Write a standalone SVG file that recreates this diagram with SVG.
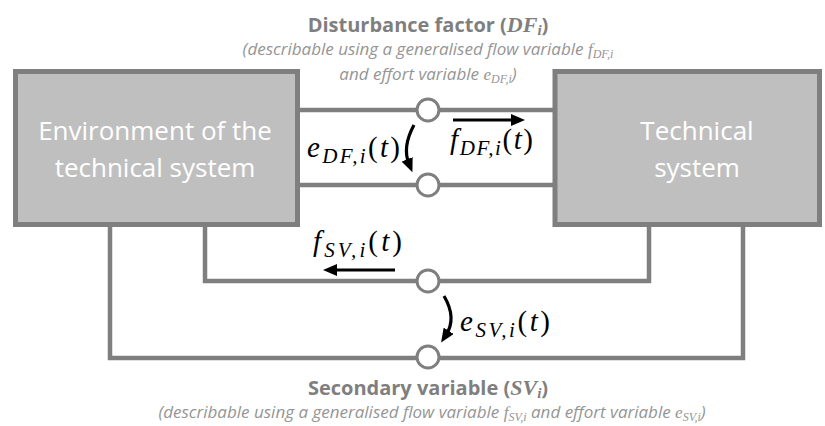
<svg xmlns="http://www.w3.org/2000/svg" width="825" height="426" viewBox="0 0 825 426">
<style>
.box{fill:#bfbfbf;stroke:#7f7f7f;stroke-width:5}
.wire{fill:none;stroke:#7f7f7f;stroke-width:4.5}
.port{fill:#fff;stroke:#7f7f7f;stroke-width:3}
.arr{fill:none;stroke:#000;stroke-width:3.2;marker-end:url(#ah)}
.boxt{font-family:"Open Sans","Liberation Sans",sans-serif;font-size:26px;fill:#fff;text-anchor:middle}
.title{font-family:"Open Sans","Liberation Sans",sans-serif;font-size:20px;font-weight:bold;fill:#7f7f7f;text-anchor:middle}
.desc{font-family:"Open Sans","Liberation Sans",sans-serif;font-size:17px;font-style:italic;fill:#959595;text-anchor:middle}
.m{font-family:"Liberation Serif",serif;font-style:italic}
.mb{font-family:"Liberation Serif",serif;font-style:italic;font-weight:bold}
.lab{font-family:"Liberation Serif",serif;font-style:italic;font-size:29px;fill:#000}
.up{font-style:normal}
</style>
<defs>
<marker id="ah" markerUnits="userSpaceOnUse" markerWidth="14" markerHeight="12" refX="5" refY="6" orient="auto">
<path d="M0,0 L14,6 L0,12 z" fill="#000"/>
</marker>
</defs>
<g id="connectors">
<path class="wire" d="M300,110 H555"/>
<path class="wire" d="M300,185 H555"/>
<path class="wire" d="M205,225 V281 H649 V225"/>
<path class="wire" d="M110,225 V358 H743 V225"/>
</g>
<g id="env">
<rect class="box" x="15.5" y="71.5" width="282" height="153"/>
<text class="boxt" x="155" y="140">Environment of the</text>
<text class="boxt" x="155" y="177">technical system</text>
</g>
<g id="tech">
<rect class="box" x="555" y="71.5" width="264.5" height="153"/>
<text class="boxt" x="697" y="140">Technical</text>
<text class="boxt" x="697" y="177">system</text>
</g>
<g id="ports">
<circle class="port" cx="428" cy="110" r="11"/>
<circle class="port" cx="428" cy="185" r="11"/>
<circle class="port" cx="428" cy="281" r="11"/>
<circle class="port" cx="428" cy="357" r="11"/>
</g>
<g id="arrows">
<path class="arr" d="M453,120 H516"/>
<path class="arr" d="M395,270 H332"/>
<path class="arr" d="M414,125 Q402,147 409,164"/>
<path class="arr" d="M444,296 Q457,318 446,335"/>
</g>
<g id="labels">
<text class="lab" x="307" y="157" textLength="93" lengthAdjust="spacing">e<tspan font-size="21" dy="6">DF,i</tspan><tspan class="up" dy="-6">(</tspan>t<tspan class="up">)</tspan></text>
<text class="lab" x="450" y="149" textLength="83" lengthAdjust="spacing">f<tspan font-size="21" dy="6">DF,i</tspan><tspan class="up" dy="-6">(</tspan>t<tspan class="up">)</tspan></text>
<text class="lab" x="313" y="251" textLength="89" lengthAdjust="spacing">f<tspan font-size="21" dy="6">SV,i</tspan><tspan class="up" dy="-6">(</tspan>t<tspan class="up">)</tspan></text>
<text class="lab" x="460" y="331" textLength="90" lengthAdjust="spacing">e<tspan font-size="21" dy="6">SV,i</tspan><tspan class="up" dy="-6">(</tspan>t<tspan class="up">)</tspan></text>
</g>
<g id="df-title">
<text class="title" x="428" y="32">Disturbance factor (<tspan class="mb" font-size="22">DF</tspan><tspan class="mb" font-size="15" dy="3">i</tspan><tspan dy="-3">)</tspan></text>
<text class="desc" x="428" y="55">(describable using a generalised flow variable <tspan class="m" font-size="17">f</tspan><tspan class="m" font-size="12" dy="3">DF,i</tspan></text>
<text class="desc" x="428" y="80">and effort variable <tspan class="m" font-size="17">e</tspan><tspan class="m" font-size="12" dy="3">DF,i</tspan><tspan dy="-3">)</tspan></text>
</g>
<g id="sv-title">
<text class="title" x="428" y="395">Secondary variable (<tspan class="mb" font-size="22">SV</tspan><tspan class="mb" font-size="15" dy="3">i</tspan><tspan dy="-3">)</tspan></text>
<text class="desc" x="432" y="418">(describable using a generalised flow variable <tspan class="m" font-size="17">f</tspan><tspan class="m" font-size="12" dy="3">SV,i</tspan><tspan dy="-3"> and effort variable </tspan><tspan class="m" font-size="17">e</tspan><tspan class="m" font-size="12" dy="3">SV,i</tspan><tspan dy="-3">)</tspan></text>
</g>
</svg>
